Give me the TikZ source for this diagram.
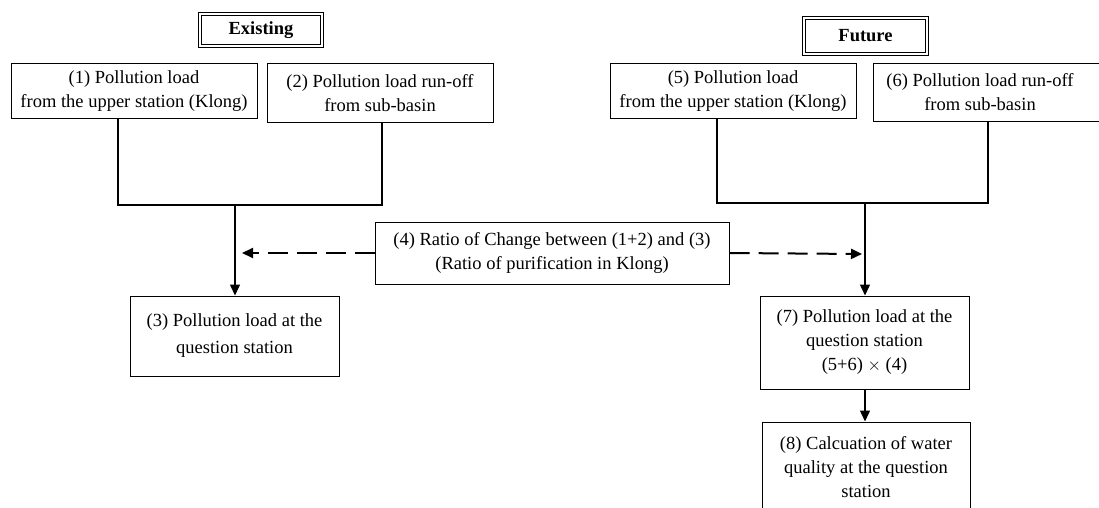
\documentclass[tikz,border=0pt]{standalone}
\usepackage{fontspec}
\setmainfont{Liberation Serif}
\usetikzlibrary{arrows.meta}
\begin{document}
\begin{tikzpicture}[x=1pt,y=-1pt,
  every node/.style={font=\fontsize{18.5}{24}\selectfont, align=center, inner sep=0pt},
  box/.style={draw, line width=1pt, minimum width=#1},
  head/.style={draw, double, double distance=1.8pt, line width=0.9pt, font=\fontsize{18.5}{24}\selectfont\bfseries},
  thickline/.style={line width=2pt},
  thinline/.style={line width=1.1pt},
  tip/.style={-{Triangle[length=11pt,width=10pt]}},
  dash4/.style={line width=2pt, dash pattern=on 20pt off 9pt, -{Triangle[length=11pt,width=10pt]}}
]
\useasboundingbox (0,0) rectangle (1099,508);
\clip (0,0) rectangle (1099,508);

% headers
\node[head, minimum width=122pt, minimum height=32pt] (ex) at (261,30) {Existing};
\node[head, minimum width=123pt, minimum height=36pt] (fu) at (865.5,36) {Future};

% existing side
\node[box=246pt, minimum height=55pt] (b1) at (134,91.5) {(1) Pollution load\\from the upper station (Klong)};
\node[box=226pt, minimum height=58pt] (b2) at (380,93) {(2) Pollution load run-off\\from sub-basin};
\node[box=209pt, minimum height=80pt, font=\fontsize{18.5}{27}\selectfont] (b3) at (234.5,336) {(3) Pollution load at the\\question station};

% middle
\node[box=354pt, minimum height=62pt] (b4) at (552,253) {(4) Ratio of Change between (1+2) and (3)\\(Ratio of purification in Klong)};

% future side
\node[box=246pt, minimum height=55pt] (b5) at (733,91.5) {(5) Pollution load\\from the upper station (Klong)};
\node[box=234pt, minimum height=57pt] (b6) at (990,92.5) {};
\node (t6) at (980,92.5) {(6) Pollution load run-off\\from sub-basin};
\node[box=209pt, minimum height=93pt] (b7) at (864.5,342.5) {(7) Pollution load at the\\question station\\(5+6) $\times$ (4)};
\node[box=208pt, minimum height=100pt] (b8) at (866,472) {};
\node (t8) at (866,467.5) {(8) Calcuation of water\\quality at the question\\station};

% junction coordinates
\coordinate (l1) at (118,205);
\coordinate (l2) at (382,205);
\coordinate (lj) at (235,205);
\coordinate (r1) at (717,203);
\coordinate (r2) at (988,203);
\coordinate (rj) at (865,203);
\coordinate (dl) at (242,253);
\coordinate (dr) at (862,254);

% existing connectors
\draw[thickline] (l1 |- b1.south) -- (l1) -- (l2) -- (l2 |- b2.south);
\draw[thickline, line width=1.5pt, tip] (lj) -- (lj |- b3.north);

% future connectors
\draw[thinline] (r1 |- b5.south) -- (r1) -- (r2) -- (r2 |- b6.south);
\draw[thinline, line width=1.4pt, tip] (rj) -- (rj |- b7.north);
\draw[thinline, line width=1.4pt, tip] (b7.south -| rj) -- (b8.north -| rj);

% dashed ratio arrows
\draw[dash4] (b4.west) -- (dl);
\draw[dash4] (b4.east) -- (dr);
\end{tikzpicture}
\end{document}
